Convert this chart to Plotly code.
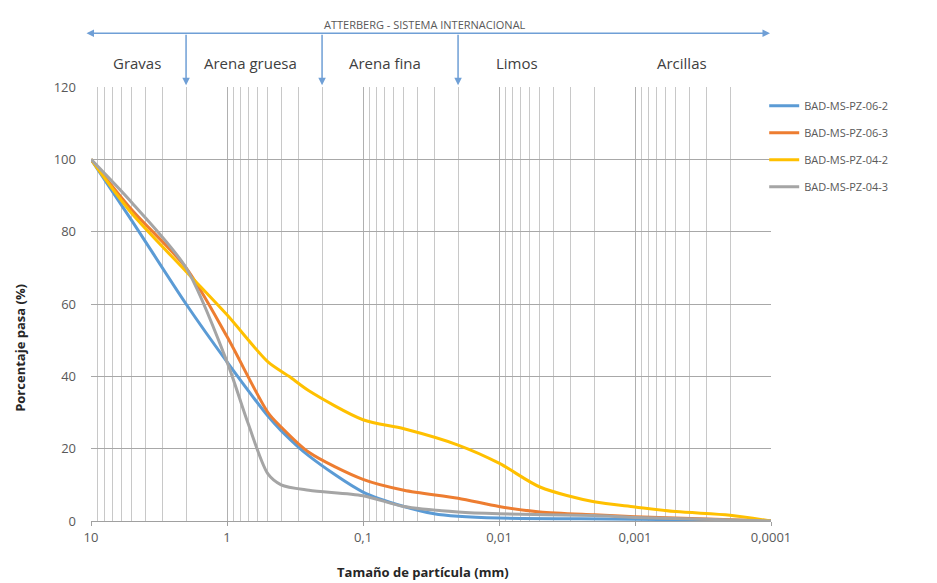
import math
import plotly.graph_objects as go

# --- data (particle size in mm, percent passing) ---
sizes_06_2 = [10, 5, 2, 1, 0.5, 0.4, 0.25, 0.1, 0.05, 0.03, 0.02, 0.01, 0.001, 0.0001]
pass_06_2 = [100, 83, 60, 44, 29, 25, 18, 8, 4, 2, 1.3, 0.8, 0.5, 0]

sizes_06_3 = [10, 5, 2, 1, 0.5, 0.4, 0.25, 0.1, 0.05, 0.02, 0.01, 0.005, 0.002, 0.001, 0.0001]
pass_06_3 = [100, 86, 70, 51, 30, 26, 19, 11.5, 8.5, 6.3, 4, 2.5, 1.7, 1.2, 0]

sizes_04_2 = [10, 5, 2, 1, 0.5, 0.35, 0.25, 0.1, 0.05, 0.02, 0.01, 0.005, 0.002, 0.001, 0.0005, 0.0002, 0.0001]
pass_04_2 = [100, 85, 69, 57, 44, 40, 36, 28, 25.5, 21, 16, 9.4, 5.3, 3.9, 2.6, 1.6, 0]

sizes_04_3 = [10, 5, 2, 1, 0.7, 0.5, 0.4, 0.25, 0.1, 0.05, 0.02, 0.01, 0.002, 0.001, 0.0001]
pass_04_3 = [100, 88, 70, 44, 27, 13, 10, 8.5, 7, 4, 2.5, 2, 1.5, 1, 0]

series_names = ["BAD-MS-PZ-06-2", "BAD-MS-PZ-06-3", "BAD-MS-PZ-04-2", "BAD-MS-PZ-04-3"]
series_colors = ["#5b9bd5", "#ed7d31", "#ffc000", "#a5a5a5"]

x_tickvals = [10, 1, 0.1, 0.01, 0.001, 0.0001]
x_ticktext = ["10", "1", "0,1", "0,01", "0,001", "0,0001"]

atterberg_limits = [2, 0.2, 0.02]
fraction_labels = ["Gravas", "Arena gruesa", "Arena fina", "Limos", "Arcillas"]
fraction_label_pos = [0.068, 0.234, 0.432, 0.626, 0.869]

FONT = "Open Sans, Lato, sans-serif"

fig = go.Figure()
all_x = [sizes_06_2, sizes_06_3, sizes_04_2, sizes_04_3]
all_y = [pass_06_2, pass_06_3, pass_04_2, pass_04_3]
for i, (xs, ys) in enumerate(zip(all_x, all_y)):
    fig.add_trace(go.Scatter(
        x=xs, y=ys, mode="lines", name=series_names[i],
        line=dict(color=series_colors[i], width=3, shape="spline", smoothing=0.8),
        legendgroup=f"g{i}",
    ))

annotations = []
arrow_col = "#6f9fd6"
# horizontal double arrow
annotations.append(dict(xref="paper", yref="paper", x=0.9985, y=1.124, ax=-685, ay=0,
                        axref="pixel", ayref="pixel", text="", showarrow=True,
                        arrowside="end+start", arrowhead=2, arrowsize=1, arrowwidth=1.5,
                        arrowcolor=arrow_col))
annotations.append(dict(xref="paper", yref="paper", x=0.491, y=1.145, xanchor="center", yanchor="middle",
                        text="ATTERBERG - SISTEMA INTERNACIONAL",
                        showarrow=False, font=dict(size=11, color="#595959", family=FONT)))
for lim in atterberg_limits:
    annotations.append(dict(xref="x", yref="paper", x=math.log10(lim), y=1.004, ax=0, ay=-52,
                            text="", showarrow=True, arrowhead=2, arrowsize=1, arrowwidth=1.5,
                            arrowcolor=arrow_col))
for lab, px in zip(fraction_labels, fraction_label_pos):
    annotations.append(dict(xref="paper", yref="paper", x=px, y=1.055, xanchor="center", yanchor="middle",
                            text=lab, showarrow=False, font=dict(size=15, color="#404040", family=FONT)))
# axis titles
annotations.append(dict(xref="paper", yref="paper", x=0.488, y=-0.1175, xanchor="center", yanchor="middle",
                        text="<b>Tamaño de partícula (mm)</b>", showarrow=False,
                        font=dict(size=13, color="#262626", family=FONT)))
annotations.append(dict(xref="paper", yref="paper", x=-0.1044, y=0.399, xanchor="center", yanchor="middle",
                        text="<b>Porcentaje pasa (%)</b>", showarrow=False, textangle=-90,
                        font=dict(size=13, color="#262626", family=FONT)))

fig.update_layout(
    width=929, height=575,
    margin=dict(l=83, r=166, t=79, b=62),
    paper_bgcolor="white", plot_bgcolor="white",
    font=dict(family=FONT, color="#595959", size=12),
    showlegend=True,
    legend=dict(x=0.99, y=0.99, xanchor="left", yanchor="top", tracegroupgap=8,
                font=dict(size=11, color="#595959", family=FONT), itemwidth=30, bgcolor="rgba(0,0,0,0)"),
    annotations=annotations,
    xaxis=dict(
        type="log", range=[1, -4], automargin=False,
        tickmode="array", tickvals=x_tickvals, ticktext=x_ticktext,
        showgrid=True, gridcolor="#b0b0b0", gridwidth=1,
        ticks="outside", ticklen=4, tickcolor="#a0a0a0",
        showline=True, linecolor="#a0a0a0", linewidth=1,
        minor=dict(dtick="D1", showgrid=True, gridcolor="#c8c8c8", gridwidth=1, ticks=""),
        zeroline=False,
        tickfont=dict(size=13, color="#595959"),
    ),
    yaxis=dict(
        range=[0, 120], dtick=20, showgrid=True, gridcolor="#a8a8a8", gridwidth=1, automargin=False,
        zeroline=False, showline=False, ticks="", ticklabelstandoff=14,
        tickfont=dict(size=13, color="#595959"),
    ),
)

fig.write_html("out.html")
